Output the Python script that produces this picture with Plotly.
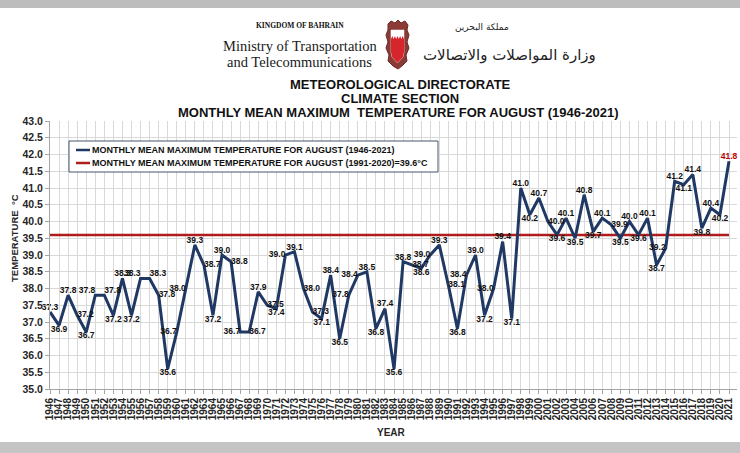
import plotly.graph_objects as go

years = list(range(1946, 2022))
temps = [
    37.3, 36.9, 37.8, 37.2, 36.7, 37.8, 37.8, 37.2, 38.3, 37.2,   # 1946-1955
    38.3, 38.3, 37.8, 35.6, 36.7, 38.0, 39.3, 38.7, 37.2, 39.0,   # 1956-1965
    38.8, 36.7, 36.7, 37.9, 37.5, 37.4, 39.0, 39.1, 38.0, 37.3,   # 1966-1975
    37.1, 38.4, 36.5, 37.8, 38.4, 38.5, 36.8, 37.4, 35.6, 38.8,   # 1976-1985
    38.7, 38.6, 39.0, 39.3, 38.1, 36.8, 38.4, 39.0, 37.2, 38.0,   # 1986-1995
    39.4, 37.1, 41.0, 40.2, 40.7, 40.0, 39.6, 40.1, 39.5, 40.8,   # 1996-2005
    39.7, 40.1, 39.9, 39.5, 40.0, 39.6, 40.1, 38.7, 39.2, 41.2,   # 2006-2015
    41.1, 41.4, 39.8, 40.4, 40.2, 41.8,                           # 2016-2021
]
normal_value = 39.6
normal_values = [normal_value] * len(years)
year_labels = [str(y) for y in years]

series_name = "MONTHLY MEAN MAXIMUM TEMPERATURE FOR AUGUST (1946-2021)"
normal_name = "MONTHLY MEAN MAXIMUM TEMPERATURE FOR AUGUST (1991-2020)=39.6°C"

BLUE = "#1f3864"
RED = "#b01c1c"

# ---- layout geometry (pixels) ----
W, H = 740, 453
L, R, T, B = 50, 737, 121, 389


def xp(px):
    return (px - L) / (R - L)


def yp(py):
    return (B - py) / (B - T)


def path(points):
    s = "M " + " L ".join(f"{xp(x):.5f},{yp(y):.5f}" for x, y in points)
    return s + " Z"


# label placement based on neighbours
positions = []
n = len(temps)
for i, v in enumerate(temps):
    prev = temps[i - 1] if i > 0 else None
    nxt = temps[i + 1] if i < n - 1 else None
    if prev is None:
        positions.append("top center" if nxt is None or v >= nxt else "bottom center")
    elif nxt is None:
        positions.append("top center")
    elif v == nxt:
        outer = temps[i - 1]
        positions.append("top left" if v > outer else "middle left")
    elif v == prev:
        outer = nxt
        positions.append("top right" if v > outer else "middle right")
    elif v > prev and v > nxt:
        positions.append("top center")
    elif v < prev and v < nxt:
        positions.append("bottom center")
    elif prev < v < nxt:
        positions.append("middle left")
    else:
        positions.append("middle right")

label_colors = ["#111111"] * (n - 1) + ["#c00000"]

fig = go.Figure()
fig.add_trace(go.Scatter(
    x=years, y=normal_values, mode="lines", name=normal_name,
    line=dict(color=RED, width=2.5), showlegend=False,
))
fig.add_trace(go.Scatter(
    x=years, y=temps, mode="lines+text", name=series_name,
    line=dict(color=BLUE, width=3),
    text=[f"{v:.1f}" for v in temps], textposition=positions,
    textfont=dict(family="Liberation Sans", size=8.5, color=label_colors, weight="bold"),
    cliponaxis=False, showlegend=False,
))

x_end = 2021 + (R - 729) / 9.053

fig.update_xaxes(
    range=[1946, x_end], tickmode="array", tickvals=years, ticktext=year_labels,
    tickangle=-90, tickfont=dict(family="Liberation Sans", size=10, color="#262626", weight="bold"),
    showgrid=True, gridcolor="#d9d9d9", gridwidth=1,
    showline=True, linecolor="#a6a6a6", ticks="outside", ticklen=4, tickcolor="#a6a6a6",
    zeroline=False,
)
fig.update_yaxes(
    range=[35, 43], dtick=0.5, tickformat=".1f",
    tickfont=dict(family="Liberation Sans", size=10.5, color="#262626", weight="bold"),
    showgrid=True, gridcolor="#d9d9d9", gridwidth=1,
    showline=True, linecolor="#a6a6a6", ticks="outside", ticklen=4, tickcolor="#a6a6a6",
    zeroline=False,
)

shapes = []
# grey photo borders
shapes.append(dict(type="rect", xref="paper", yref="paper", x0=xp(0), x1=xp(W), y0=yp(0), y1=yp(8),
                   fillcolor="#bdbdbd", line=dict(width=0), layer="below"))
shapes.append(dict(type="rect", xref="paper", yref="paper", x0=xp(0), x1=xp(W), y0=yp(442), y1=yp(H),
                   fillcolor="#c4c4c4", line=dict(width=0), layer="below"))
# emblem: mantle
mantle = [(388, 24), (391, 21), (395, 23), (398, 20), (401, 23), (405, 21), (408, 25), (407, 30),
          (409, 35), (407, 42), (409, 48), (406, 55), (407, 61), (402, 66), (398, 69), (393, 66),
          (388, 61), (389, 55), (386, 48), (388, 42), (386, 35), (388, 30)]
shapes.append(dict(type="path", xref="paper", yref="paper", path=path(mantle),
                   fillcolor="#8a3b36", line=dict(color="#6e2a26", width=1)))
shield = [(391, 30), (404, 30), (404, 52), (403, 57), (397.5, 63), (392, 57), (391, 52)]
shapes.append(dict(type="path", xref="paper", yref="paper", path=path(shield),
                   fillcolor="#ffffff", line=dict(color="#ffffff", width=0.5)))
red_part = [(391, 39), (392.3, 36), (393.6, 39), (394.9, 36), (396.2, 39), (397.5, 36), (398.8, 39),
            (400.1, 36), (401.4, 39), (402.7, 36), (404, 39), (404, 52), (403, 57), (397.5, 63),
            (392, 57), (391, 52)]
shapes.append(dict(type="path", xref="paper", yref="paper", path=path(red_part),
                   fillcolor="#d7262b", line=dict(width=0)))

# legend box (drawn by hand so it stays compact like the original)
shapes.append(dict(type="rect", xref="paper", yref="paper", x0=xp(69), x1=xp(438), y0=yp(141), y1=yp(172),
                   fillcolor="#ffffff", line=dict(color="#44546a", width=1)))
shapes.append(dict(type="line", xref="paper", yref="paper", x0=xp(76), x1=xp(90), y0=yp(150), y1=yp(150),
                   line=dict(color=BLUE, width=2.5)))
shapes.append(dict(type="line", xref="paper", yref="paper", x0=xp(76), x1=xp(90), y0=yp(163), y1=yp(163),
                   line=dict(color=RED, width=2.5)))

annotations = []


def ann(text, px, py, size, family="Liberation Sans", bold=False, color="#111111", angle=0,
        xanchor="center"):
    annotations.append(dict(
        text=text, x=xp(px), y=yp(py), xref="paper", yref="paper", showarrow=False,
        xanchor=xanchor, yanchor="middle", textangle=angle,
        font=dict(family=family, size=size, color=color, weight="bold" if bold else "normal"),
    ))


ann(series_name, 90, 150, 9, bold=True, xanchor="left")
ann(normal_name, 90, 163, 9, bold=True, xanchor="left")

ann("KINGDOM OF BAHRAIN", 300, 25, 7.5, family="Liberation Serif", bold=True)
ann("Ministry of Transportation", 300, 46, 14.5, family="Liberation Serif", color="#1a1a1a")
ann("and Telecommunications", 299, 62, 14.5, family="Liberation Serif", color="#1a1a1a")
ann("مملكة البحرين", 482, 27, 9, family="DejaVu Sans", color="#222222")
ann("وزارة المواصلات والاتصالات", 509, 55, 15, family="DejaVu Sans", color="#222222")
ann("METEOROLOGICAL DIRECTORATE", 400, 84, 13, bold=True)
ann("CLIMATE SECTION", 400, 98, 13, bold=True)
ann("MONTHLY MEAN MAXIMUM  TEMPERATURE FOR AUGUST (1946-2021)", 398, 112, 13, bold=True)
ann("TEMPERATURE  °C", 14, 238, 9.5, bold=True, color="#262626", angle=-90)
ann("YEAR", 391, 432, 10, bold=True, color="#262626")

fig.update_layout(
    width=W, height=H,
    margin=dict(l=L, r=W - R, t=T, b=H - B, autoexpand=False),
    paper_bgcolor="#ffffff", plot_bgcolor="#ffffff",
    showlegend=False, hovermode=False,
    shapes=shapes, annotations=annotations,
)

fig.write_html(
    "out.html",
    config={"displayModeBar": False},
    post_script="document.body.style.margin='0';document.body.style.overflow='hidden';",
)
